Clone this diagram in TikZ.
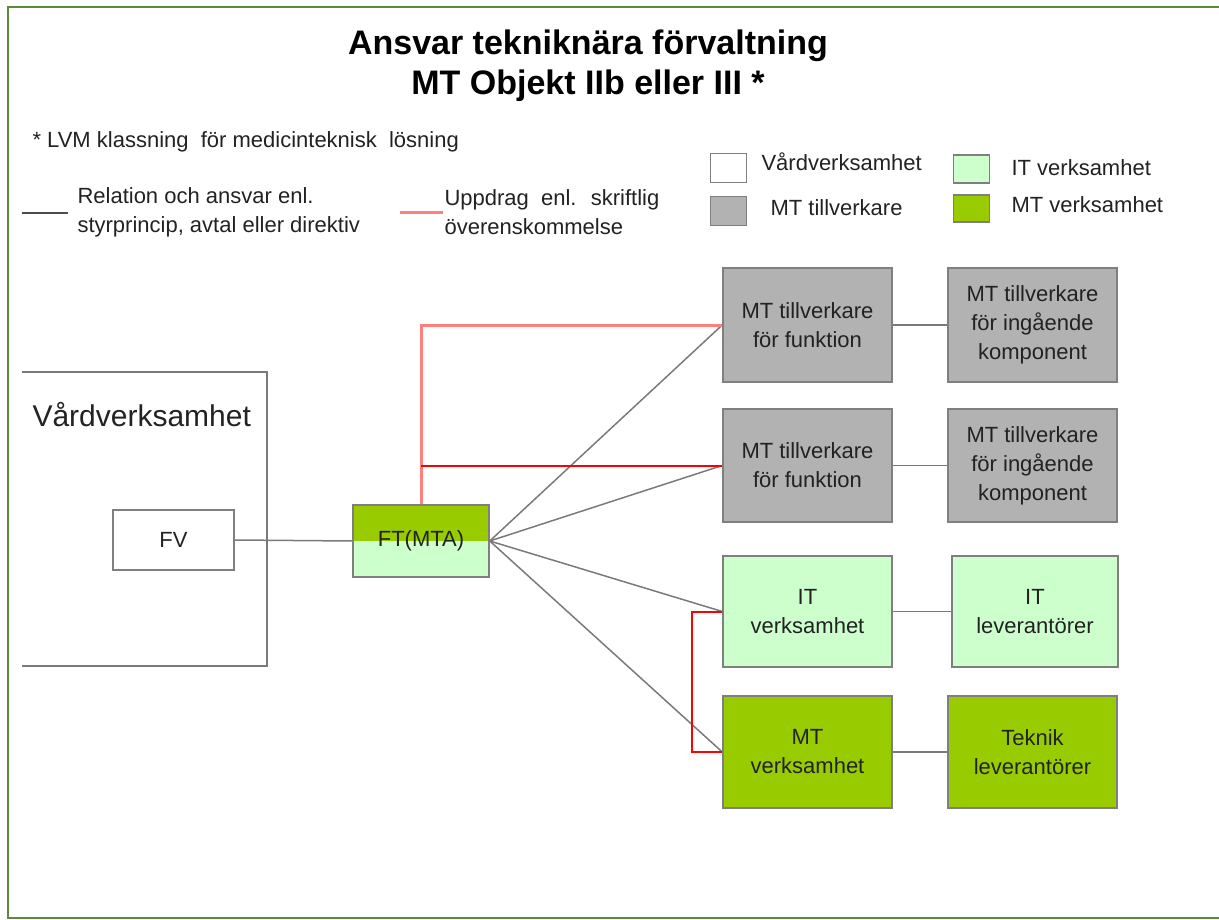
\documentclass[tikz,border=0pt]{standalone}
\usepackage{fontspec}
\setmainfont{Liberation Sans}
\usetikzlibrary{calc}
\definecolor{frame}{HTML}{5B8A3C}
\definecolor{boxline}{HTML}{7F7F7F}
\definecolor{mtgray}{HTML}{B2B2B2}
\definecolor{itgreen}{HTML}{CCFFCC}
\definecolor{mtgreen}{HTML}{99CC00}
\definecolor{txt}{HTML}{222222}
\definecolor{pinkred}{HTML}{FF7F7F}
\definecolor{agreered}{HTML}{FF0000}
\definecolor{relline}{HTML}{7A7A7A}
\begin{document}
\begin{tikzpicture}[x=1pt,y=-1pt,
  every node/.style={text=txt},
  body/.style={font=\fontsize{22}{29}\selectfont},
  unit/.style={draw=boxline, line width=1.5pt, body, align=center, inner sep=0pt},
  bigbox/.style={unit, minimum width=169pt, minimum height=113pt},
  keybox/.style={draw=boxline, line width=1.5pt, minimum width=36pt, minimum height=29pt, inner sep=0pt},
  rel/.style={draw=relline, line width=1.5pt},
  agreement/.style={draw=agreered, line width=2pt},
  agreementsoft/.style={draw=pinkred, line width=3pt}]
\useasboundingbox (0,0) rectangle (1219,920);
% outer frame, open to the right
\draw[frame, line width=2.2pt] (1219,7) -- (8,7) -- (8,918) -- (1219,918);

% title
\node[font=\bfseries\fontsize{34}{40}\selectfont, text=black, align=center] (title) at (588,66)
  {Ansvar tekniknära förvaltning\\MT Objekt IIb eller III *};
\node[body, anchor=west] (note) at (29,142) {* LVM klassning \ för medicinteknisk \ lösning};

% line key
\coordinate (relA) at (22,213);
\coordinate (relB) at (68,213);
\draw[draw=black!70, line width=1.2pt] (relA) -- (relB);
\node[body, anchor=west, align=left] (relkey) at (74,212) {Relation och ansvar enl.\\styrprincip, avtal eller direktiv};
\coordinate (keyA) at (400,213);
\coordinate (keyB) at (443,213);
\draw[agreementsoft] (keyA) -- (keyB);
\node[body, anchor=west, align=left] (agreekey) at (441,212) {Uppdrag \ enl. \ skriftlig\\överenskommelse};

% colour key
\node[keybox, fill=white] (kw) at (728.5,168) {};
\node[body, anchor=west] (kwt) at (758,162) {Vårdverksamhet};
\node[keybox, fill=mtgray] (kg) at (728.5,211) {};
\node[body, anchor=west] (kgt) at (767,208) {MT tillverkare};
\node[keybox, fill=itgreen, minimum height=28pt] (kl) at (971.5,169) {};
\node[body, anchor=west] (klt) at (1008,168) {IT verksamhet};
\node[keybox, fill=mtgreen, minimum height=27pt] (kd) at (971.5,208.5) {};
\node[body, anchor=west] (kdt) at (1008,205) {MT verksamhet};

% care organisation
\draw[rel] (22,372) -- (267,372) -- (267,666) -- (22,666);
\node[font=\fontsize{30}{36}\selectfont, anchor=west] (care) at (29,415) {Vårdverksamhet};
\node[unit, fill=white, minimum width=121pt, minimum height=60pt] (fv) at (173.5,540) {FV};

% FT(MTA), split fill
\node[unit, fill=itgreen, minimum width=136pt, minimum height=72pt,
  path picture={\fill[mtgreen] (path picture bounding box.north west) rectangle (path picture bounding box.east);}]
  (ft) at (421,541) {FT(MTA)};

% right-hand units
\node[bigbox, fill=mtgray, minimum height=114pt] (mtf1) at (807.5,325) {MT tillverkare\\för funktion};
\node[bigbox, fill=mtgray, minimum height=114pt] (mtc1) at (1032.5,325) {MT tillverkare\\för ingående\\komponent};
\node[bigbox, fill=mtgray] (mtf2) at (807.5,465.5) {MT tillverkare\\för funktion};
\node[bigbox, fill=mtgray] (mtc2) at (1032.5,465.5) {MT tillverkare\\för ingående\\komponent};
\node[bigbox, fill=itgreen, minimum height=111pt] (itv) at (807.5,611.5) {IT\\verksamhet};
\node[bigbox, fill=itgreen, minimum height=111pt, minimum width=166pt] (itl) at (1035,611.5) {IT\\leverantörer};
\node[bigbox, fill=mtgreen, minimum height=112pt] (mtv) at (807.5,752) {MT\\verksamhet};
\node[bigbox, fill=mtgreen, minimum height=112pt] (tek) at (1032.5,752) {Teknik\\leverantörer};

% relations
\draw[rel] (fv.east) -- (ft.west);
\draw[rel] (ft.east) -- (mtf1.west);
\draw[rel] (ft.east) -- (mtf2.west);
\draw[rel] (ft.east) -- (itv.west);
\draw[rel] (ft.east) -- (mtv.west);
\draw[rel] (mtf1.east) -- (mtc1.west);
\draw[rel] (mtf2.east) -- (mtc2.west);
\draw[rel] (itv.east) -- (itl.west);
\draw[rel] (mtv.east) -- (tek.west);

% written agreements
\draw[agreementsoft] (ft.north) |- (mtf1.west);
\coordinate (branch) at (ft.north |- mtf2.west);
\draw[agreement] (branch) -- (mtf2.west);
\draw[agreement] (itv.west) -- ++(-30,0) |- (mtv.west);
\end{tikzpicture}
\end{document}
